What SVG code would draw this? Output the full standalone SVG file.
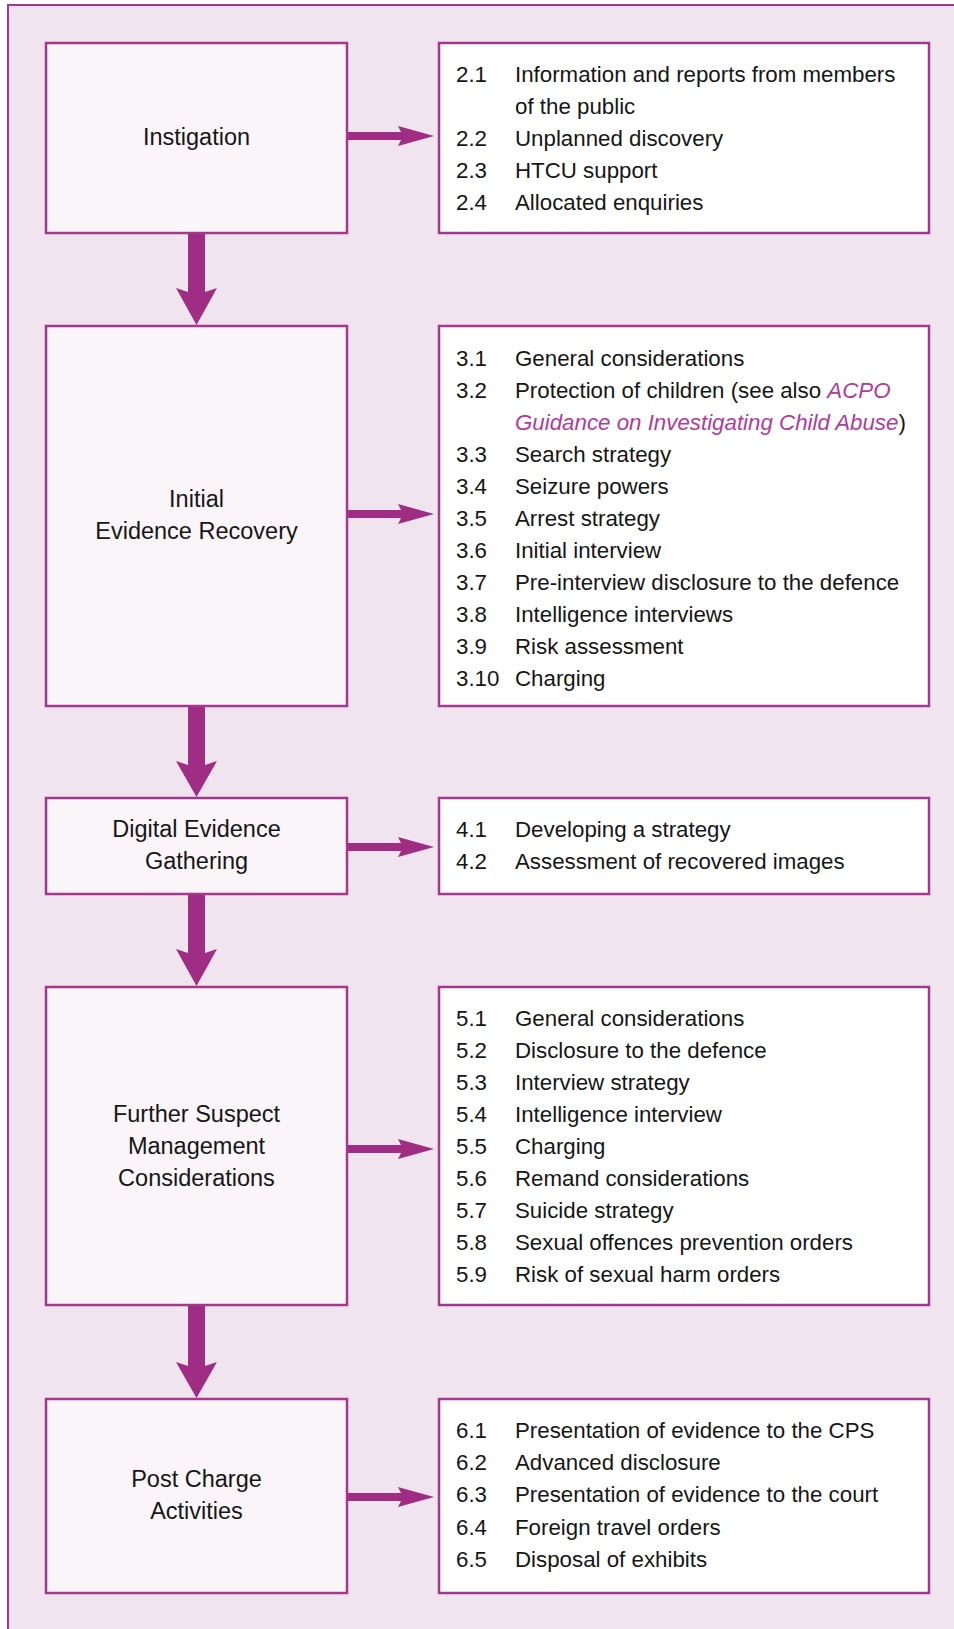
<svg xmlns="http://www.w3.org/2000/svg" width="954" height="1629" viewBox="0 0 954 1629">
<defs>
<style>
.frame{fill:#F0E4EE;stroke:#A5388E;stroke-width:2}
.lbox{fill:#FAF5F9;stroke:#A5388E;stroke-width:2.5}
.rbox{fill:#FFFFFF;stroke:#A5388E;stroke-width:2.5}
.arrow{fill:#A02D84}
text{font-family:"Liberation Sans",Arial,sans-serif;fill:#161616}
.lab{font-size:23.5px;text-anchor:middle}
.item{font-size:22.3px}
.it{font-style:italic;fill:#B23A9C}
</style>
</defs>
<rect x="0" y="0" width="954" height="1629" fill="#FFFFFF"/>
<rect class="frame" x="8" y="5" width="980" height="1660"/>

<g id="connectors">
  <path class="arrow" d="M347,132 H401 L398,126 L434,136 L398,146 L401,140 H347 Z"/>
  <path class="arrow" d="M347,510 H401 L398,504 L434,514 L398,524 L401,518 H347 Z"/>
  <path class="arrow" d="M347,843 H401 L398,837 L434,847 L398,857 L401,851 H347 Z"/>
  <path class="arrow" d="M347,1145 H401 L398,1139 L434,1149 L398,1159 L401,1153 H347 Z"/>
  <path class="arrow" d="M347,1493 H401 L398,1487 L434,1497 L398,1507 L401,1501 H347 Z"/>
  <path class="arrow" d="M188,234 V292 L176,288 L196.5,325 L217,288 L205,292 V234 Z"/>
  <path class="arrow" d="M188,707 V765 L176,761 L196.5,797 L217,761 L205,765 V707 Z"/>
  <path class="arrow" d="M188,895 V953 L176,949 L196.5,986 L217,949 L205,953 V895 Z"/>
  <path class="arrow" d="M188,1306 V1366 L176,1362 L196.5,1398 L217,1362 L205,1366 V1306 Z"/>
</g>

<g id="instigation">
  <rect class="lbox" x="46" y="43" width="301" height="190"/>
  <text class="lab" x="196.5" y="145">Instigation</text>
</g>
<g id="instigation-items">
  <rect class="rbox" x="439" y="43" width="490" height="190"/>
  <text class="item" x="456" y="82">2.1</text><text class="item" x="515" y="82">Information and reports from members</text>
  <text class="item" x="515" y="114">of the public</text>
  <text class="item" x="456" y="146">2.2</text><text class="item" x="515" y="146">Unplanned discovery</text>
  <text class="item" x="456" y="178">2.3</text><text class="item" x="515" y="178">HTCU support</text>
  <text class="item" x="456" y="210">2.4</text><text class="item" x="515" y="210">Allocated enquiries</text>
</g>

<g id="initial-evidence-recovery">
  <rect class="lbox" x="46" y="326" width="301" height="380"/>
  <text class="lab" x="196.5" y="507">Initial</text>
  <text class="lab" x="196.5" y="539">Evidence Recovery</text>
</g>
<g id="initial-evidence-items">
  <rect class="rbox" x="439" y="326" width="490" height="380"/>
  <text class="item" x="456" y="366">3.1</text><text class="item" x="515" y="366">General considerations</text>
  <text class="item" x="456" y="398">3.2</text><text class="item" x="515" y="398">Protection of children (see also <tspan class="it">ACPO</tspan></text>
  <text class="item" x="515" y="430"><tspan class="it">Guidance on Investigating Child Abuse</tspan>)</text>
  <text class="item" x="456" y="462">3.3</text><text class="item" x="515" y="462">Search strategy</text>
  <text class="item" x="456" y="494">3.4</text><text class="item" x="515" y="494">Seizure powers</text>
  <text class="item" x="456" y="526">3.5</text><text class="item" x="515" y="526">Arrest strategy</text>
  <text class="item" x="456" y="558">3.6</text><text class="item" x="515" y="558">Initial interview</text>
  <text class="item" x="456" y="590">3.7</text><text class="item" x="515" y="590">Pre-interview disclosure to the defence</text>
  <text class="item" x="456" y="622">3.8</text><text class="item" x="515" y="622">Intelligence interviews</text>
  <text class="item" x="456" y="654">3.9</text><text class="item" x="515" y="654">Risk assessment</text>
  <text class="item" x="456" y="686">3.10</text><text class="item" x="515" y="686">Charging</text>
</g>

<g id="digital-evidence-gathering">
  <rect class="lbox" x="46" y="798" width="301" height="96"/>
  <text class="lab" x="196.5" y="837">Digital Evidence</text>
  <text class="lab" x="196.5" y="869">Gathering</text>
</g>
<g id="digital-evidence-items">
  <rect class="rbox" x="439" y="798" width="490" height="96"/>
  <text class="item" x="456" y="837">4.1</text><text class="item" x="515" y="837">Developing a strategy</text>
  <text class="item" x="456" y="869">4.2</text><text class="item" x="515" y="869">Assessment of recovered images</text>
</g>

<g id="further-suspect-management">
  <rect class="lbox" x="46" y="987" width="301" height="318"/>
  <text class="lab" x="196.5" y="1122">Further Suspect</text>
  <text class="lab" x="196.5" y="1154">Management</text>
  <text class="lab" x="196.5" y="1186">Considerations</text>
</g>
<g id="further-suspect-items">
  <rect class="rbox" x="439" y="987" width="490" height="318"/>
  <text class="item" x="456" y="1026">5.1</text><text class="item" x="515" y="1026">General considerations</text>
  <text class="item" x="456" y="1058">5.2</text><text class="item" x="515" y="1058">Disclosure to the defence</text>
  <text class="item" x="456" y="1090">5.3</text><text class="item" x="515" y="1090">Interview strategy</text>
  <text class="item" x="456" y="1122">5.4</text><text class="item" x="515" y="1122">Intelligence interview</text>
  <text class="item" x="456" y="1154">5.5</text><text class="item" x="515" y="1154">Charging</text>
  <text class="item" x="456" y="1186">5.6</text><text class="item" x="515" y="1186">Remand considerations</text>
  <text class="item" x="456" y="1218">5.7</text><text class="item" x="515" y="1218">Suicide strategy</text>
  <text class="item" x="456" y="1250">5.8</text><text class="item" x="515" y="1250">Sexual offences prevention orders</text>
  <text class="item" x="456" y="1282">5.9</text><text class="item" x="515" y="1282">Risk of sexual harm orders</text>
</g>

<g id="post-charge-activities">
  <rect class="lbox" x="46" y="1399" width="301" height="194"/>
  <text class="lab" x="196.5" y="1487">Post Charge</text>
  <text class="lab" x="196.5" y="1519">Activities</text>
</g>
<g id="post-charge-items">
  <rect class="rbox" x="439" y="1399" width="490" height="194"/>
  <text class="item" x="456" y="1438">6.1</text><text class="item" x="515" y="1438">Presentation of evidence to the CPS</text>
  <text class="item" x="456" y="1470">6.2</text><text class="item" x="515" y="1470">Advanced disclosure</text>
  <text class="item" x="456" y="1502">6.3</text><text class="item" x="515" y="1502">Presentation of evidence to the court</text>
  <text class="item" x="456" y="1535">6.4</text><text class="item" x="515" y="1535">Foreign travel orders</text>
  <text class="item" x="456" y="1567">6.5</text><text class="item" x="515" y="1567">Disposal of exhibits</text>
</g>
</svg>
